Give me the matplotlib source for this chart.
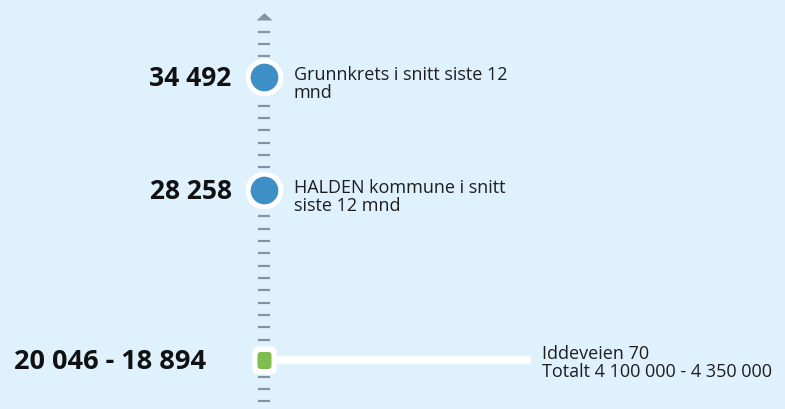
import numpy as np
import matplotlib
matplotlib.use("Agg")
import matplotlib.pyplot as plt
import matplotlib.patches as mpatches
from matplotlib.path import Path

# Price per square metre (NOK)
dot_values = [34492, 28258]
dot_value_labels = ["34 492", "28 258"]
dot_descriptions = [
    "Grunnkrets i snitt siste 12\nmnd",
    "HALDEN kommune i snitt\nsiste 12 mnd",
]

range_high = 20046
range_low = 18894
range_label = "20 046 - 18 894"
range_description = "Iddeveien 70\nTotalt 4 100 000 - 4 350 000"

# Scale layout
Y_MIN, Y_MAX = 16167, 38749
TICK_TOP, TICK_STEP, TICK_COUNT = 37000, 680, 31
ARROW_BASE = 37644

BG = "#def1fd"
TICK = "#8394a3"
BLUE = "#3d8fc6"
GREEN = "#80bd4f"
TEXT = "#1e1e1e"
PX = 0.72  # points per pixel at 100 dpi

plt.rcParams["font.family"] = ["Open Sans", "DejaVu Sans"]

W, H = 785, 409
fig = plt.figure(figsize=(W / 100, H / 100), dpi=100)
fig.patch.set_facecolor(BG)
ax = fig.add_axes([0, 0, 1, 1])
ax.set_facecolor(BG)
ax.set_xlim(0, W)
ax.set_ylim(Y_MIN, Y_MAX)
ax.axis("off")

AX_X = 263.5
LINE_END = 531

# Dashed scale
ticks = TICK_TOP - TICK_STEP * np.arange(TICK_COUNT)
ax.plot(np.full(TICK_COUNT, AX_X), ticks, ls="none", marker="_",
        ms=11.3 * PX, mew=2.2 * PX, color=TICK, zorder=1)

# Arrow head on top of the scale
arrow = Path([(-8, 0), (8, 0), (0, 7.3), (-8, 0)],
             [Path.MOVETO, Path.LINETO, Path.LINETO, Path.CLOSEPOLY])
ax.plot([AX_X], [ARROW_BASE], ls="none", marker=arrow, ms=16 * PX,
        color=TICK, mew=0, zorder=1)


def rounded_rect(w, h, r):
    box = mpatches.FancyBboxPatch((-w / 2, -h / 2), w, h,
                                  boxstyle=f"round,pad=0,rounding_size={r}")
    return box.get_path()


# Connector from the property marker to its description
ax.plot([AX_X, LINE_END], [range_low, range_low], color="white",
        lw=7.5 * PX, solid_capstyle="butt", zorder=2)

# Average markers
ax.scatter(np.full(len(dot_values), AX_X), dot_values, s=(37.7 * PX) ** 2,
           color="white", linewidths=0, zorder=3)
ax.scatter(np.full(len(dot_values), AX_X), dot_values, s=(27.7 * PX) ** 2,
           color=BLUE, linewidths=0, zorder=4)

# Property marker
ax.plot([AX_X], [range_low], ls="none", marker=rounded_rect(24, 28, 6),
        ms=28 * PX, color="white", mew=0, zorder=3)
ax.plot([AX_X], [range_low], ls="none", marker=rounded_rect(14, 17, 3),
        ms=17 * PX, color=GREEN, mew=0, zorder=4)

# Labels
for v, lbl, desc in zip(dot_values, dot_value_labels, dot_descriptions):
    ax.annotate(lbl, xy=(AX_X, v), xytext=(-32, -9), textcoords="offset pixels",
                ha="right", va="baseline", fontsize=19, fontweight="bold",
                color="#111111")
    ax.annotate(desc, xy=(AX_X, v), xytext=(30, 11), textcoords="offset pixels",
                ha="left", va="top", fontsize=13, linespacing=1.0, color=TEXT)

ax.annotate(range_label, xy=(AX_X, range_low), xytext=(-57, -9),
            textcoords="offset pixels", ha="right", va="baseline",
            fontsize=19.5, fontweight="bold", color="#111111")
ax.annotate(range_description, xy=(LINE_END, range_low), xytext=(10.5, 15),
            textcoords="offset pixels", ha="left", va="top", fontsize=13,
            linespacing=1.0, color=TEXT)

fig.savefig("out.png", dpi=100, facecolor=BG)
